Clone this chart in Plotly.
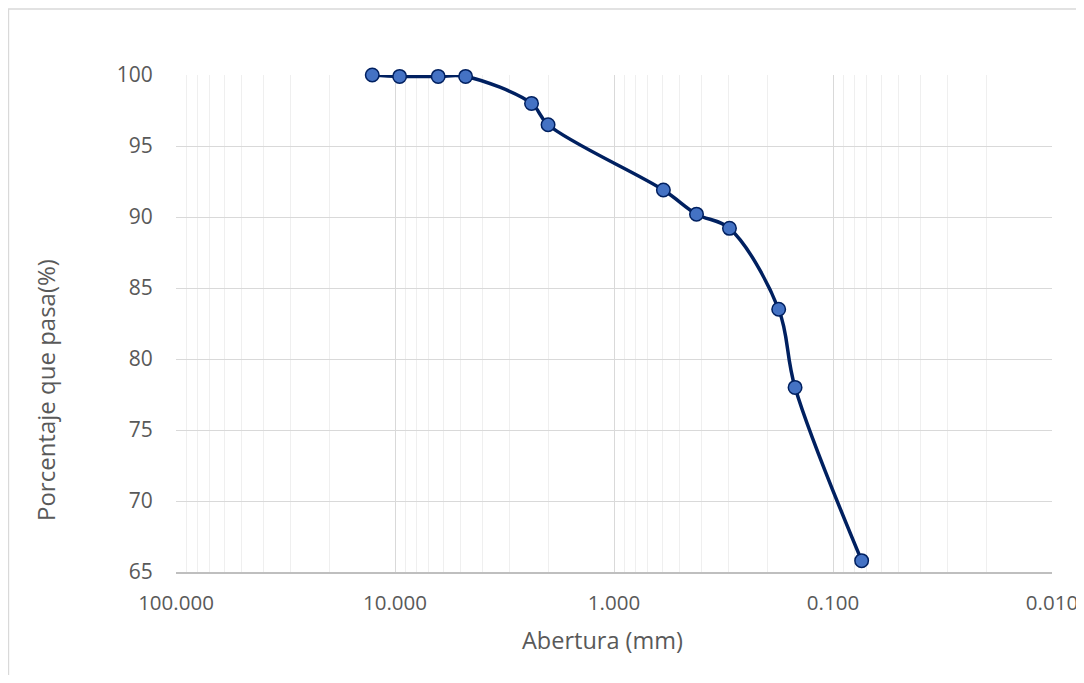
import plotly.graph_objects as go

abertura_mm = [12.7, 9.525, 6.35, 4.76, 2.38, 2.00, 0.595, 0.42, 0.297, 0.177, 0.149, 0.074]
pasa_pct = [100.0, 99.9, 99.9, 99.9, 98.0, 96.5, 91.9, 90.2, 89.2, 83.5, 78.0, 65.8]

x_tickvals = [100, 10, 1, 0.1, 0.01]
x_ticktext = ["100.000", "10.000", "1.000", "0.100", "0.010"]
y_tickvals = [65, 70, 75, 80, 85, 90, 95, 100]

x_title = "Abertura (mm)"
y_title = "Porcentaje que pasa(%)"

minor_vals = [m * 10.0 ** k for k in (-2, -1, 0, 1) for m in range(2, 10)]

FONT = "Open Sans, Lato, sans-serif"
GREY = "#595959"

W, H = 1084, 667
L, T = 168, 67
PW, PH = 876, 497

fig = go.Figure()
fig.add_trace(go.Scatter(
    x=abertura_mm, y=pasa_pct, mode="lines+markers",
    line=dict(color="#002060", width=3.5, shape="spline", smoothing=1),
    marker=dict(size=13.5, color="#4472C4", line=dict(color="#002060", width=1.5)),
    showlegend=False, cliponaxis=False,
))

fig.update_layout(
    width=W, height=H,
    margin=dict(l=L, r=W - L - PW, t=T, b=H - T - PH, autoexpand=False),
    paper_bgcolor="white", plot_bgcolor="white",
    font=dict(family=FONT, color=GREY, size=21),
    xaxis=dict(
        type="log", range=[2, -2], automargin=False,
        tickvals=x_tickvals, ticktext=x_ticktext,
        showgrid=True, gridcolor="#d9d9d9", gridwidth=1.3,
        minor=dict(tickvals=minor_vals, showgrid=True, gridcolor="#efefef", gridwidth=1),
        showline=True, linecolor="#bfbfbf", linewidth=1.5,
        ticks="outside", ticklen=12, tickcolor="rgba(0,0,0,0)",
        zeroline=False,
        tickfont=dict(size=20.5, color=GREY),
    ),
    yaxis=dict(
        range=[65, 100], tickvals=y_tickvals, automargin=False,
        showgrid=True, gridcolor="#d9d9d9", gridwidth=1.3,
        zeroline=False, showline=False,
        ticks="outside", ticklen=18, tickcolor="rgba(0,0,0,0)",
        tickfont=dict(size=21, color=GREY),
    ),
    annotations=[
        dict(text=x_title, xref="paper", yref="paper",
             x=(594 - L) / PW, y=-(632 - (T + PH)) / PH,
             xanchor="center", yanchor="middle", showarrow=False,
             font=dict(size=23.5, color=GREY)),
        dict(text=y_title, xref="paper", yref="paper",
             x=(37 - L) / PW, y=1 - (382 - T) / PH, textangle=-90,
             xanchor="center", yanchor="middle", showarrow=False,
             font=dict(size=24, color=GREY)),
    ],
)

fig.add_shape(type="rect", xref="paper", yref="paper",
              x0=-L / PW + 0.0005, x1=(W - L + 20) / PW,
              y0=-(H - T - PH + 20) / PH, y1=1 + (T - 1) / PH,
              line=dict(color="#d9d9d9", width=1.5), fillcolor="rgba(0,0,0,0)", layer="below")

fig.write_html("out.html")
